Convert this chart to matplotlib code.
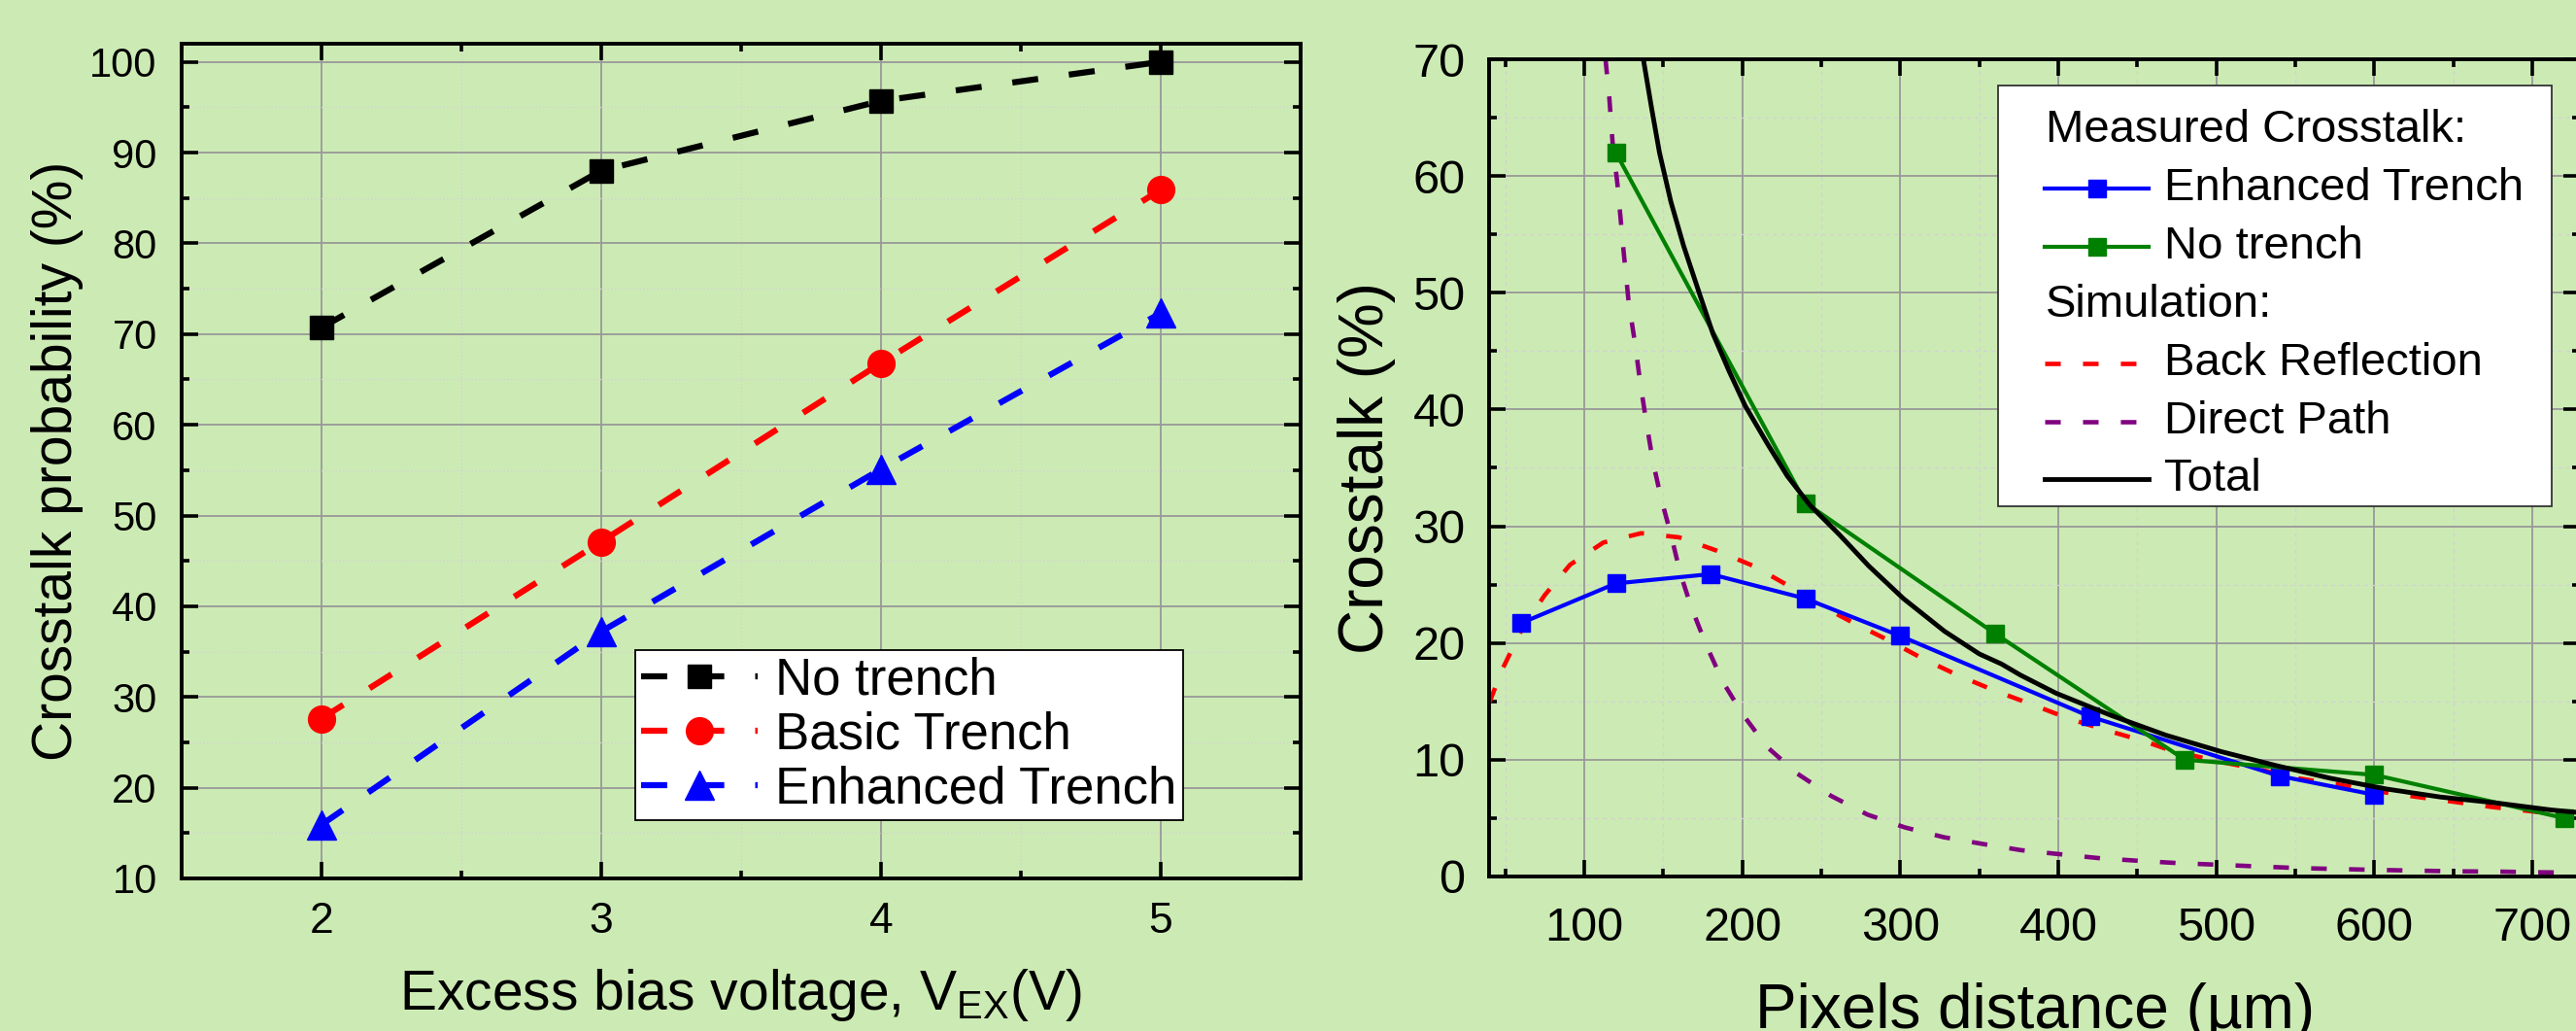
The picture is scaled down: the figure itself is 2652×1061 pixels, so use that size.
import matplotlib
matplotlib.use('Agg')
import matplotlib.pyplot as plt
from matplotlib.ticker import MultipleLocator
from matplotlib.patches import Rectangle

plt.rcParams['font.family'] = ['Liberation Sans', 'DejaVu Sans']
plt.rcParams['mathtext.fontset'] = 'custom'
plt.rcParams['mathtext.rm'] = 'Liberation Sans'
plt.rcParams['mathtext.it'] = 'Liberation Sans:italic'

BG = '#ccebb4'

# --- left panel: crosstalk vs excess bias ---
bias_v = [2, 3, 4, 5]
no_trench_prob = [70.7, 88.0, 95.7, 100.0]
basic_trench_prob = [27.6, 47.1, 66.8, 85.9]
enhanced_trench_prob = [15.9, 37.2, 55.1, 72.3]

# --- right panel: measured crosstalk vs pixel distance ---
enh_dist = [60, 120, 180, 240, 300, 420, 540, 600]
enh_xtalk = [21.7, 25.1, 25.9, 23.8, 20.6, 13.7, 8.6, 7.0]
notr_dist = [120, 240, 360, 480, 600, 720]
notr_xtalk = [62.0, 32.0, 20.8, 10.0, 8.7, 5.0]

# simulation curves
back_dist = [40, 48, 61, 75, 91, 112, 136, 160, 184, 207, 228, 240, 272, 293,
             315, 337, 360, 383, 407, 431, 454, 472, 505, 526, 552, 576, 600,
             626, 650, 675, 698, 726]
back_xtalk = [14.9, 17.7, 21.3, 24.1, 26.7, 28.6, 29.4, 29.05, 27.9, 26.6, 25.0,
              23.9, 21.6, 20.2, 18.6, 17.2, 15.9, 14.75, 13.5, 12.5, 11.6, 10.75,
              9.75, 9.2, 8.4, 7.9, 7.33, 6.83, 6.4, 5.94, 5.6, 5.2]
direct_dist = [113.4, 115.8, 117.9, 121, 125, 128.1, 132.2, 135.3, 139.4, 143.5,
               148.6, 154.8, 160.9, 167.9, 177.4, 188, 200.2, 215.6, 234.9, 256.2,
               279.2, 302.9, 327.5, 352.3, 376.5, 402, 426.4, 451.9, 476.2, 501.7,
               526, 551.6, 576, 601.5, 625.9, 651.3, 676.8, 702.3, 726]
direct_xtalk = [70.05, 66.8, 62.9, 59.3, 53.4, 49.2, 45.6, 42.4, 38.8, 35.5,
                32.4, 29.3, 25.9, 23.0, 19.75, 16.6, 13.9, 11.1, 8.8, 6.9,
                5.3, 4.2, 3.36, 2.78, 2.25, 1.89, 1.56, 1.33, 1.14, 1.0,
                0.86, 0.72, 0.64, 0.56, 0.5, 0.44, 0.42, 0.36, 0.33]
total_dist = [137.4, 142.5, 147.6, 154.8, 162.9, 173.2, 181.4, 191.6, 201.9, 216.2,
              228.5, 242.8, 261.3, 280, 302, 328, 350, 364, 376, 398.5, 433.3,
              468.1, 502.9, 537.7, 572.5, 607.2, 642, 676.8, 711.6, 727.4]
total_xtalk = [70.0, 65.9, 62.0, 57.8, 54.0, 49.8, 46.5, 43.3, 40.3, 37.0,
               34.3, 31.8, 29.3, 26.6, 23.8, 21.0, 19.06, 18.2, 17.25, 15.7, 13.8,
               12.1, 10.7, 9.5, 8.4, 7.5, 6.8, 6.3, 5.7, 5.5]


def style_axes(ax, tick_size, spine_w=2.8):
    ax.set_facecolor(BG)
    for s in ax.spines.values():
        s.set_linewidth(spine_w)
    ax.tick_params(which='both', direction='in', top=True, right=True,
                   width=2.6, labelsize=tick_size)
    ax.tick_params(which='major', length=12)
    ax.tick_params(which='minor', length=6)
    ax.set_axisbelow(True)
    ax.grid(which='major', color='#999999', lw=1.3, ls='-')


fig = plt.figure(figsize=(26.52, 10.61), dpi=100)
fig.patch.set_facecolor(BG)

# ---------------- left ----------------
ax1 = fig.add_axes([0.0704, 0.148, 0.4345, 0.8096])
style_axes(ax1, 30)
ax1.grid(which='minor', color='#d2d2d2', lw=1.0, ls=':')
ax1.tick_params(which='both', pad=18)
ax1.tick_params(axis='x', labelsize=32, pad=17)

dash_l = (0, (4.3, 5.1))
ax1.plot(bias_v, no_trench_prob, color='black', lw=4.5, ls=dash_l,
         marker='s', ms=17, label='No trench')
ax1.plot(bias_v, basic_trench_prob, color='red', lw=4.5, ls=dash_l,
         marker='o', ms=20, label='Basic Trench')
ax1.plot(bias_v, enhanced_trench_prob, color='blue', lw=4.5, ls=dash_l,
         marker='^', ms=21, label='Enhanced Trench')

ax1.set_xlim(1.5, 5.5)
ax1.set_ylim(10, 102)
ax1.xaxis.set_major_locator(MultipleLocator(1))
ax1.xaxis.set_minor_locator(MultipleLocator(0.5))
ax1.yaxis.set_major_locator(MultipleLocator(10))
ax1.yaxis.set_minor_locator(MultipleLocator(5))
ax1.set_ylabel('Crosstalk probability (%)', fontsize=41)
ax1.set_xlabel(r'Excess bias voltage, V$_{\mathrm{EX}}$(V)', fontsize=41)
ax1.yaxis.set_label_coords(-0.0874, 0.5)
ax1.xaxis.set_label_coords(0.5, -0.106)

leg = ax1.legend(loc='upper left', bbox_to_anchor=(0.4055, 0.2736),
                 borderaxespad=0, fontsize=38, handlelength=2.27,
                 handletextpad=0.34, borderpad=0.12, labelspacing=0.12,
                 fancybox=False, framealpha=1, edgecolor='black')
leg.get_frame().set_linewidth(1.3)

# ---------------- right ----------------
ax2 = fig.add_axes([0.5782, 0.1499, 0.4233, 0.7926])
style_axes(ax2, 35)
ax2.grid(which='minor', color='#d2d2d2', lw=1.0, ls=(0, (3, 3)))
ax2.tick_params(which='both', pad=18)
ax2.tick_params(axis='x', which='both', pad=22)

dash_r = (0, (3.5, 5.0))
ax2.plot(back_dist, back_xtalk, color='red', lw=3.3, ls=dash_r)
ax2.plot(direct_dist, direct_xtalk, color='purple', lw=3.3, ls=dash_r)
ax2.plot(enh_dist, enh_xtalk, color='blue', lw=3.0, marker='s', ms=13)
ax2.plot(notr_dist, notr_xtalk, color='green', lw=3.0, marker='s', ms=13)
ax2.plot(total_dist, total_xtalk, color='black', lw=3.5)

ax2.set_xlim(40, 730)
ax2.set_ylim(0, 70)
ax2.xaxis.set_major_locator(MultipleLocator(100))
ax2.xaxis.set_minor_locator(MultipleLocator(50))
ax2.yaxis.set_major_locator(MultipleLocator(10))
ax2.yaxis.set_minor_locator(MultipleLocator(5))
ax2.set_ylabel('Crosstalk (%)', fontsize=46)
ax2.set_xlabel('Pixels distance (µm)', fontsize=46)
ax2.yaxis.set_label_coords(-0.0858, 0.5)
ax2.xaxis.set_label_coords(0.5, -0.13)

# hand-built legend with section headers
T = ax2.transAxes
ax2.add_patch(Rectangle((0.4665, 0.453), 0.5077, 0.515, transform=T,
                        facecolor='white', edgecolor='#333333', lw=1.3,
                        zorder=10))
h0, h1, tx, hx = 0.5092, 0.6045, 0.6188, 0.5101
rows = [0.9132, 0.8419, 0.7705, 0.6992, 0.6278, 0.5565, 0.4863]
fs = 34
ax2.text(hx, rows[0], 'Measured Crosstalk:', transform=T, fontsize=fs,
         va='center', zorder=11)
for r, c in [(rows[1], 'blue'), (rows[2], 'green')]:
    ax2.plot([h0, h1], [r, r], color=c, lw=3.0, transform=T, zorder=11)
    ax2.plot([(h0 + h1) / 2], [r], color=c, marker='s', ms=13,
             transform=T, zorder=12)
ax2.text(tx, rows[1], 'Enhanced Trench', transform=T, fontsize=fs,
         va='center', zorder=11)
ax2.text(tx, rows[2], 'No trench', transform=T, fontsize=fs,
         va='center', zorder=11)
ax2.text(hx, rows[3], 'Simulation:', transform=T, fontsize=fs,
         va='center', zorder=11)
ax2.plot([h0, h1], [rows[4], rows[4]], color='red', lw=3.3, ls=dash_r,
         transform=T, zorder=11)
ax2.plot([h0, h1], [rows[5], rows[5]], color='purple', lw=3.3, ls=dash_r,
         transform=T, zorder=11)
ax2.plot([h0, h1], [rows[6], rows[6]], color='black', lw=3.5,
         transform=T, zorder=11)
ax2.text(tx, rows[4], 'Back Reflection', transform=T, fontsize=fs,
         va='center', zorder=11)
ax2.text(tx, rows[5], 'Direct Path', transform=T, fontsize=fs,
         va='center', zorder=11)
ax2.text(tx, rows[6], 'Total', transform=T, fontsize=fs,
         va='center', zorder=11)

fig.savefig('out.png', dpi=100, facecolor=BG)
